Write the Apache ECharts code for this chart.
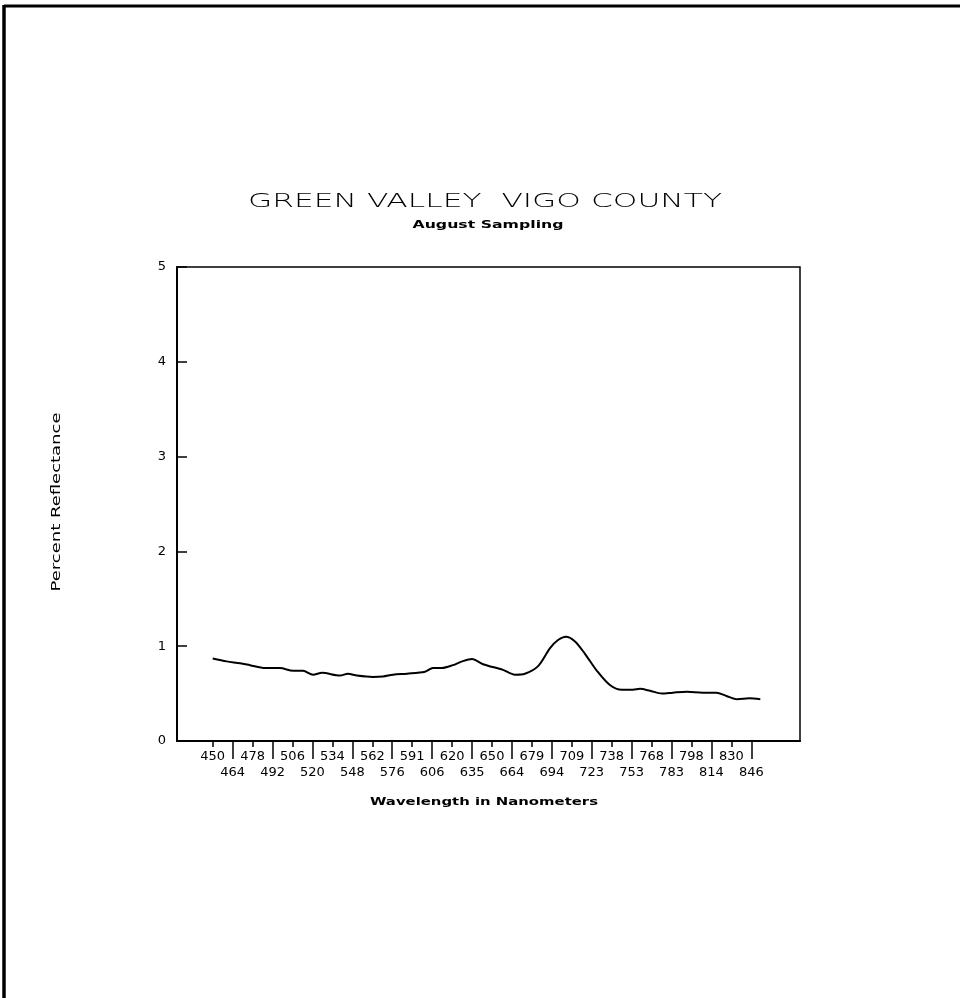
<!DOCTYPE html>
<html>
<head>
<meta charset="utf-8">
<script src="https://cdn.jsdelivr.net/npm/echarts@6/dist/echarts.min.js"></script>
<style>
  html, body { margin: 0; padding: 0; background: #fff; }
  #chart { width: 960px; height: 998px; }
</style>
</head>
<body>
<div id="chart"></div>
<script>
// Band wavelength labels (nm), one per band position along the x axis
const wavelengthLabels = [450, 464, 478, 492, 506, 520, 534, 548, 562, 576, 591, 606, 620, 635,
  650, 664, 679, 694, 709, 723, 738, 753, 768, 783, 798, 814, 830, 846];

// Reflectance trace: position in band units (0 = 450 nm) and percent reflectance
const bandPos = [0.00, 0.70, 1.37, 1.87, 2.62, 3.37, 4.03, 4.53, 5.03, 5.48, 6.38, 6.78, 7.23,
  8.03, 8.54, 9.04, 9.74, 10.64, 11.04, 11.49, 12.04, 12.50, 13.00, 13.55, 14.55, 15.15, 15.65,
  16.31, 16.91, 17.31, 17.71, 18.16, 18.66, 19.26, 19.91, 20.51, 21.06, 21.42, 21.92, 22.52,
  23.07, 23.77, 24.57, 25.25, 25.75, 26.30, 26.90, 27.45];
const reflectance = [0.87, 0.84, 0.82, 0.80, 0.77, 0.77, 0.74, 0.74, 0.70, 0.72, 0.69, 0.71, 0.69,
  0.675, 0.68, 0.70, 0.71, 0.73, 0.77, 0.77, 0.80, 0.84, 0.865, 0.81, 0.75, 0.70, 0.71,
  0.79, 0.98, 1.065, 1.10, 1.05, 0.92, 0.74, 0.59, 0.54, 0.54, 0.55, 0.53, 0.50,
  0.51, 0.52, 0.51, 0.51, 0.475, 0.44, 0.45, 0.44];

const yTicks = [0, 1, 2, 3, 4, 5];

const titleText = 'GREEN VALLEY  VIGO COUNTY';
const subtitleText = 'August Sampling';
const xName = 'Wavelength in Nanometers';
const yName = 'Percent Reflectance';

// Horizontal stretch so the plotter-style lettering spans its full width
const measureCtx = document.createElement('canvas').getContext('2d');
function stretch(text, font, width) {
  measureCtx.font = font;
  return width / measureCtx.measureText(text).width;
}

const titleFont = '200 20px "DejaVu Sans"';
const subFont = 'bold 11px "DejaVu Sans"';
const xNameFont = 'bold 11px "DejaVu Sans"';
const yNameFont = '12px "DejaVu Sans"';

const allIdx = wavelengthLabels.map((_, i) => i);
const evenIdx = allIdx.filter(i => i % 2 === 0);
const oddIdx = allIdx.filter(i => i % 2 === 1);

const chart = echarts.init(document.getElementById('chart'), null, { renderer: 'canvas' });

const xRange = { min: -1.79, max: 29.44 };
const tickFont = { fontFamily: 'DejaVu Sans', fontSize: 13, color: '#000' };
const bandLabel = v => String(wavelengthLabels[Math.round(v)]);

const option = {
  animation: false,
  backgroundColor: '#fff',
  grid: {
    left: 177, top: 267, right: 160, bottom: 257,
    show: true, borderColor: '#000', borderWidth: 1.5, backgroundColor: 'transparent'
  },
  xAxis: [
    {
      // upper row: even bands, short ticks
      type: 'value', min: xRange.min, max: xRange.max,
      axisLine: { show: true, onZero: false, lineStyle: { color: '#000', width: 2 } },
      splitLine: { show: false },
      axisTick: { show: true, customValues: evenIdx, length: 6, lineStyle: { color: '#000', width: 1.5 } },
      axisLabel: Object.assign({ show: true, customValues: evenIdx, margin: 9, formatter: bandLabel }, tickFont)
    },
    {
      // lower row: odd bands, long separator ticks
      type: 'value', min: xRange.min, max: xRange.max, position: 'bottom',
      axisLine: { show: false, onZero: false },
      splitLine: { show: false },
      axisTick: { show: true, customValues: oddIdx, length: 18, lineStyle: { color: '#000', width: 1.5 } },
      axisLabel: Object.assign({ show: true, customValues: oddIdx, margin: 25, formatter: bandLabel }, tickFont)
    }
  ],
  yAxis: {
    type: 'value', min: 0, max: 5, interval: 1,
    axisLine: { show: true, onZero: false, lineStyle: { color: '#000', width: 2 } },
    splitLine: { show: false },
    axisTick: { show: true, inside: true, length: 10, lineStyle: { color: '#000', width: 1.5 } },
    axisLabel: Object.assign({ margin: 11, formatter: v => (yTicks.indexOf(v) >= 0 ? String(v) : '') }, tickFont)
  },
  series: [{
    type: 'line',
    xAxisIndex: 0,
    data: bandPos.map((p, i) => [p, reflectance[i]]),
    showSymbol: false,
    smooth: 0.3,
    lineStyle: { color: '#000', width: 2 },
    silent: true
  }],
  graphic: [
    // page frame
    { type: 'line', shape: { x1: 4, y1: 6, x2: 960, y2: 6 }, style: { stroke: '#000', lineWidth: 3 } },
    { type: 'line', shape: { x1: 4, y1: 5, x2: 4, y2: 998 }, style: { stroke: '#000', lineWidth: 3.5 } },
    {
      type: 'text', x: 485, y: 202, scaleX: stretch(titleText, titleFont, 474),
      style: { text: titleText, font: titleFont, fill: '#000', align: 'center', verticalAlign: 'middle' }
    },
    {
      type: 'text', x: 488, y: 225, scaleX: stretch(subtitleText, subFont, 151),
      style: { text: subtitleText, font: subFont, fill: '#000', align: 'center', verticalAlign: 'middle' }
    },
    {
      type: 'text', x: 484, y: 802, scaleX: stretch(xName, xNameFont, 228),
      style: { text: xName, font: xNameFont, fill: '#000', align: 'center', verticalAlign: 'middle' }
    },
    {
      type: 'text', x: 57, y: 502, rotation: Math.PI / 2, scaleX: stretch(yName, yNameFont, 179),
      style: { text: yName, font: yNameFont, fill: '#000', align: 'center', verticalAlign: 'middle' }
    }
  ]
};

chart.setOption(option);
</script>
</body>
</html>
